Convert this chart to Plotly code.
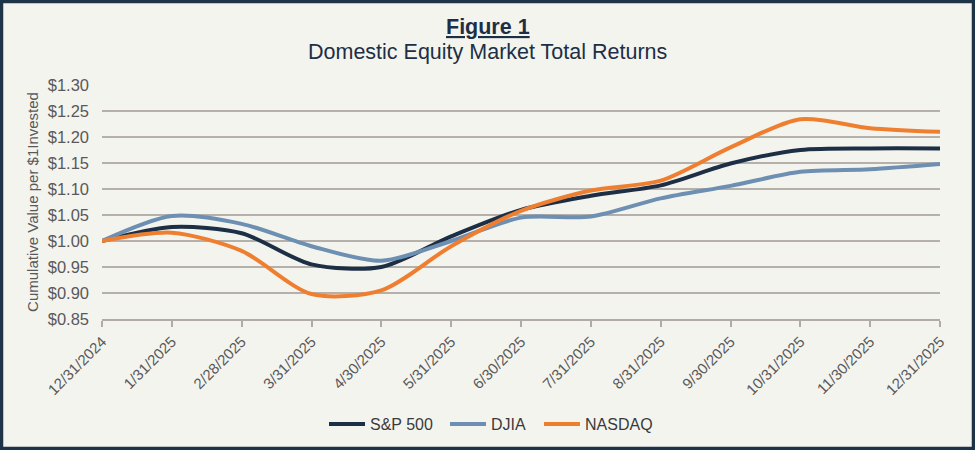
import plotly.graph_objects as go

dates = ["12/31/2024", "1/31/2025", "2/28/2025", "3/31/2025", "4/30/2025", "5/31/2025",
         "6/30/2025", "7/31/2025", "8/31/2025", "9/30/2025", "10/31/2025", "11/30/2025", "12/31/2025"]
sp500 = [1.000, 1.027, 1.015, 0.955, 0.950, 1.009, 1.060, 1.087, 1.107, 1.149, 1.175, 1.178, 1.178]
djia = [1.000, 1.048, 1.033, 0.990, 0.962, 1.000, 1.045, 1.047, 1.082, 1.106, 1.133, 1.138, 1.148]
nasdaq = [1.000, 1.016, 0.981, 0.898, 0.905, 0.990, 1.058, 1.097, 1.116, 1.180, 1.234, 1.217, 1.210]

series_names = ["S&P 500", "DJIA", "NASDAQ"]
colors = ["#1d2f45", "#6d8fb2", "#ef7f30"]
legend_ids = ["legend", "legend2", "legend3"]
legend_left_px = [324, 445, 539]

W, H = 975, 450
L, R, T, B = 102, 35, 85, 131
pw, ph = W - L - R, H - T - B

def px(xp):
    return (xp - L) / pw

def py(yp):
    return (H - B - yp) / ph

font = "Liberation Sans, Arial, sans-serif"

fig = go.Figure()
for name, vals, c, lg in zip(series_names, [sp500, djia, nasdaq], colors, legend_ids):
    fig.add_trace(go.Scatter(x=dates, y=vals, name=name, mode="lines", legend=lg,
                             line=dict(color=c, width=4, shape="spline", smoothing=0.8)))

legend_common = dict(orientation="h", xanchor="left", y=py(424), yanchor="middle",
                     font=dict(size=16, color="#3a3a3a"), bgcolor="rgba(0,0,0,0)",
                     itemwidth=36)
legends = {lg: dict(x=px(xl), **legend_common) for lg, xl in zip(legend_ids, legend_left_px)}

fig.update_layout(
    width=W, height=H,
    margin=dict(l=L, r=R, t=T, b=B, autoexpand=False),
    paper_bgcolor="#f4f4ef", plot_bgcolor="#f4f4ef",
    font=dict(family=font, color="#595959", size=14),
    showlegend=True,
    xaxis=dict(type="category", showgrid=False, showline=True, linecolor="#b0aba7", linewidth=2,
               ticks="outside", ticklen=6, tickcolor="#b0aba7", tickwidth=1.5, tickangle=-45,
               tickfont=dict(size=15, color="#595959"), range=[0, 12], zeroline=False,
               automargin=False),
    yaxis=dict(range=[0.85, 1.30], dtick=0.05, tick0=0.85, tickprefix="$", tickformat=".2f",
               showgrid=True, gridcolor="#b5b0ac", gridwidth=1.5, zeroline=False, showline=False,
               tickfont=dict(size=16.5, color="#595959"), ticks="", automargin=False,
               ticklabelstandoff=12,
               title=dict(text="Cumulative Value per $1Invested", font=dict(size=15, color="#595959"),
                          standoff=5)),
    annotations=[
        dict(text="<b><u>Figure 1</u></b>", x=px(W / 2), xref="paper", y=py(27), yref="paper",
             showarrow=False, font=dict(size=21.5, color="#1d2f45", family=font), yanchor="middle"),
        dict(text="Domestic Equity Market Total Returns", x=px(W / 2), xref="paper", y=py(52), yref="paper",
             showarrow=False, font=dict(size=21.5, color="#1d2f45", family=font), yanchor="middle"),
    ],
    shapes=[dict(type="rect", xref="paper", yref="paper", x0=px(1.5), x1=px(W - 1.5), y0=py(H - 1.5), y1=py(1.5),
                 line=dict(color="#1d3348", width=3.5), fillcolor="rgba(0,0,0,0)", layer="above")],
    **legends,
)

fig.write_html("out.html", config={"displayModeBar": False},
               post_script="document.body.style.margin='0';document.body.style.overflow='hidden';")
